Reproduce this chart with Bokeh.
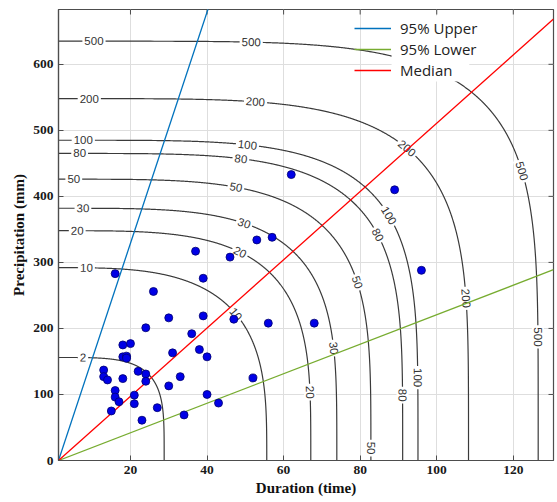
import numpy as np
from bokeh.plotting import figure
from bokeh.models import (Range1d, LinearAxis, ColumnDataSource, Legend, LegendItem,
                          BoxAnnotation, FixedTicker)
from bokeh.core.properties import value
from bokeh.embed import file_html
from bokeh.resources import INLINE

# ---------------- data ----------------
duration = [16, 37, 46, 39, 26, 30, 39, 47, 56, 24, 36, 38, 31, 40, 33, 30, 40, 43, 34, 52,
            27, 23, 20, 18, 18, 19, 19, 13, 13, 14, 18, 22, 24, 24, 16, 16, 17, 21, 21, 15,
            57, 53, 62, 89, 96, 68]
precip = [283, 317, 308, 276, 256, 216, 219, 214, 208, 201, 192, 168, 163, 157, 127, 113, 100, 87, 69, 125,
          80, 61, 177, 175, 157, 158, 155, 137, 127, 122, 124, 135, 131, 120, 106, 96, 89, 99, 86, 75,
          338, 334, 433, 410, 288, 208]

# joint return-period contours: level, precipitation asymptote, duration asymptote, corner shape
levels = [2, 10, 20, 30, 50, 80, 100, 200, 500]
level_precip = [156, 292, 348, 382, 426, 465, 485, 548, 635]
level_duration = [28.8, 55.6, 67.1, 73.9, 82.8, 91.1, 95.1, 108.3, 126.5]
level_shape = [4.2, 3.3, 3.7, 3.9, 4.0, 4.25, 4.4, 4.5, 5.0]
# approximate label anchor points (duration, precipitation) for each level
label_anchor = {
    2: [(7.6, 156)],
    10: [(8.5, 292), (47.4, 221)],
    20: [(6.3, 348), (48.3, 312), (66.2, 103)],
    30: [(7.3, 382), (49.5, 355), (72.3, 170)],
    50: [(5.0, 426), (47.4, 408), (78.3, 268), (82.2, 20)],
    80: [(6.0, 465), (48.7, 453), (84.3, 341), (90.3, 98)],
    100: [(7.6, 485), (50.4, 473), (86.6, 368), (93.9, 126)],
    200: [(9.7, 548), (52.5, 539), (92.4, 474), (106.2, 245)],
    500: [(8.6, 635), (51.4, 630), (121.1, 436), (125.3, 186)],
}

# regression lines (through the axis origin)
line_origin = 1.2
upper_slope = 17.5
median_slope = 5.17
lower_slope = 2.235
series_names = ["95% Upper", "95% Lower", "Median"]
series_colors = ["#0072BD", "#77AC30", "#FF0000"]

x_ticks = [20, 40, 60, 80, 100, 120]
y_ticks = [0, 100, 200, 300, 400, 500, 600]
x_min, x_max = 1.2, 130.5
y_min, y_max = 0, 683

# ---------------- figure ----------------
W, H = 557, 502
ML, MR, MT, MB = 58, 4, 9, 42
p = figure(width=W, height=H, x_range=Range1d(x_min, x_max), y_range=Range1d(y_min, y_max),
           output_backend="svg", toolbar_location=None,
           min_border_left=ML, min_border_right=MR, min_border_top=MT, min_border_bottom=MB)
p.xaxis.visible = False
p.yaxis.visible = False
p.background_fill_color = "white"
p.outline_line_color = "#4d4d4d"
p.outline_line_width = 1.2

frame_w = W - ML - MR
frame_h = H - MT - MB
sx = frame_w / (x_max - x_min)
sy = frame_h / (y_max - y_min)

AX = "#4d4d4d"


def make_axis(ticks, label):
    ax = LinearAxis(ticker=FixedTicker(ticks=ticks))
    ax.axis_line_color = AX
    ax.axis_line_width = 1.2
    ax.major_tick_line_color = AX
    ax.major_tick_in = 5
    ax.major_tick_out = 0
    ax.minor_tick_line_color = None
    ax.major_label_text_font = "Liberation Serif"
    ax.major_label_text_font_style = "bold"
    ax.major_label_text_font_size = "13.5px"
    ax.major_label_text_color = "#1a1a1a"
    ax.major_label_standoff = 5
    ax.axis_label = label
    ax.axis_label_text_font = "Liberation Serif"
    ax.axis_label_text_font_style = "bold"
    ax.axis_label_text_font_size = "15px"
    ax.axis_label_text_color = "#111111"
    ax.axis_label_standoff = 3
    return ax


p.add_layout(make_axis(x_ticks, "Duration (time)"), "below")
p.add_layout(make_axis(y_ticks, "Precipitation (mm)"), "left")

p.xgrid.ticker = FixedTicker(ticks=x_ticks)
p.ygrid.ticker = FixedTicker(ticks=y_ticks)
p.xgrid.grid_line_color = "#dedede"
p.ygrid.grid_line_color = "#dedede"

# inward ticks on the top and right edges of the box
tick_len = 5
top_ticks = [t for t in x_ticks]
right_ticks = [t for t in y_ticks if t > y_min]
p.segment(x0=top_ticks, x1=top_ticks, y0=[y_max] * len(top_ticks),
          y1=[y_max - tick_len / sy] * len(top_ticks), line_color=AX, line_width=1)
p.segment(x0=[x_max] * len(right_ticks), x1=[x_max - tick_len / sx] * len(right_ticks),
          y0=right_ticks, y1=right_ticks, line_color=AX, line_width=1)

# ---------------- contours ----------------
t = np.linspace(0, np.pi / 2, 800)
cxs, cys = [], []
lab_x, lab_y, lab_t, lab_a = [], [], [], []
for lev, P, D, n in zip(levels, level_precip, level_duration, level_shape):
    cx = D * np.cos(t) ** (2.0 / n)
    cy = P * np.sin(t) ** (2.0 / n)
    cxs.append(list(cx))
    cys.append(list(cy))
    for (ax_, ay_) in label_anchor[lev]:
        d = ((cx - ax_) * sx) ** 2 + ((cy - ay_) * sy) ** 2
        i = int(np.argmin(d))
        i = min(max(i, 1), len(cx) - 2)
        dxs = (cx[i + 1] - cx[i - 1]) * sx
        dys = (cy[i + 1] - cy[i - 1]) * sy
        ang = np.arctan2(-dys, -dxs)
        lab_x.append(float(cx[i]))
        lab_y.append(float(cy[i]))
        lab_t.append(str(lev))
        lab_a.append(float(ang))

p.multi_line(xs=cxs, ys=cys, line_color="#3a3a3a", line_width=1.2)

lab_src = ColumnDataSource(dict(x=lab_x, y=lab_y, text=lab_t, angle=lab_a))
p.text(x="x", y="y", text="text", angle="angle", source=lab_src,
       text_font=value("Liberation Sans"), text_font_size="11.5px", text_color="#333333",
       text_align="center", text_baseline="middle",
       background_fill_color="white", padding=2)

# white area behind legend text (hides contour and grid there)
box = BoxAnnotation(left=88.2, right=108.5, bottom=574, top=674,
                    fill_color="white", fill_alpha=1.0, line_alpha=0, level="glyph")
p.add_layout(box)

# ---------------- regression lines ----------------
lx = np.array([line_origin, x_max])
r_up = p.line(lx, upper_slope * (lx - line_origin), line_color=series_colors[0], line_width=1.3)
r_lo = p.line(lx, lower_slope * (lx - line_origin), line_color=series_colors[1], line_width=1.3)
r_md = p.line(lx, median_slope * (lx - line_origin), line_color=series_colors[2], line_width=1.3)

# ---------------- observations ----------------
p.scatter(duration, precip, size=8, fill_color="#0000e6", line_color="#00006e", line_width=0.8)

legend = Legend(items=[LegendItem(label=series_names[0], renderers=[r_up]),
                       LegendItem(label=series_names[1], renderers=[r_lo]),
                       LegendItem(label=series_names[2], renderers=[r_md])],
                location=(291, 375))
legend.background_fill_alpha = 0
legend.border_line_alpha = 0
legend.padding = 5
legend.spacing = 1
legend.glyph_width = 37
legend.glyph_height = 20
legend.label_height = 20
legend.label_standoff = 9
legend.label_text_font = "Open Sans"
legend.label_text_font_size = "15px"
legend.label_text_color = "#222222"
p.add_layout(legend)

open("out.html", "w").write(file_html(p, INLINE))
